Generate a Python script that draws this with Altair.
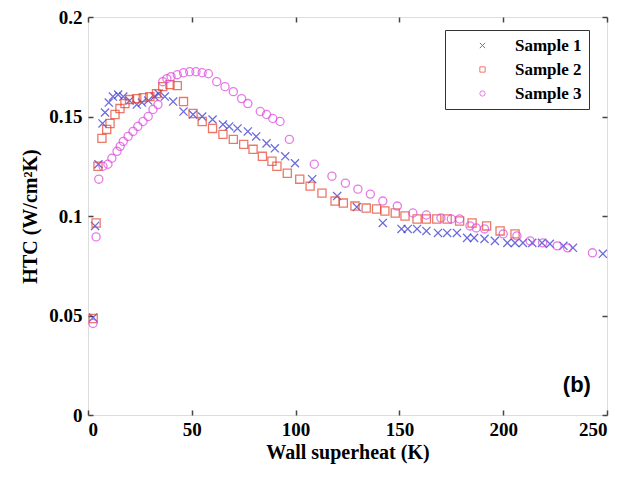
import altair as alt
import pandas as pd

names = ["Sample 1", "Sample 2", "Sample 3"]
colors = ["#2f2fd0", "#e5402a", "#dd44dd"]
shapes = ["M-1,-1L1,1M-1,1L1,-1", "square", "circle"]

s1_x = [2.5, 3.4, 5, 7, 8.2, 10, 12, 14.5, 17, 20, 23.5, 26, 29, 32, 34, 37, 41, 46, 50.6, 55,
        60, 65, 68, 72, 77, 81, 86, 90, 95, 99.7, 108, 120, 129.5, 142, 151, 154, 158.5, 163,
        168.6, 173, 177.7, 182.6, 186, 191, 196, 202, 205.7, 209.5, 214, 218.7, 222.5, 229, 233.6, 248]
s1_y = [0.049, 0.095, 0.126, 0.1465, 0.152, 0.157, 0.160, 0.161, 0.160, 0.158, 0.156, 0.157, 0.158,
        0.160, 0.1615, 0.160, 0.1575, 0.1525, 0.151, 0.150, 0.1485, 0.146, 0.145, 0.144, 0.1425,
        0.140, 0.1365, 0.134, 0.130, 0.1265, 0.1185, 0.110, 0.1045, 0.0965, 0.0935, 0.0935, 0.0935,
        0.0925, 0.0915, 0.0915, 0.0915, 0.089, 0.089, 0.0885, 0.0875, 0.0865, 0.0865, 0.0865, 0.0865,
        0.0865, 0.086, 0.085, 0.084, 0.081]

s2_x = [2.5, 3.9, 4.8, 6.7, 9, 10.6, 13, 15.4, 17.8, 20, 23.5, 26.6, 29.8, 33, 36, 39.5, 43, 46,
        50.6, 55, 60, 65, 70, 75, 79.5, 84, 88.6, 91, 96, 102, 107, 112.7, 119, 123, 128.6, 134,
        139, 143, 148, 152.7, 158.5, 163, 168, 173, 179, 185, 192, 198.5, 205.7]
s2_y = [0.0485, 0.0965, 0.125, 0.139, 0.1435, 0.1465, 0.151, 0.154, 0.1565, 0.1585, 0.159, 0.1595,
        0.160, 0.1615, 0.165, 0.166, 0.1655, 0.1575, 0.1515, 0.1475, 0.144, 0.141, 0.1385, 0.136,
        0.1335, 0.130, 0.1275, 0.125, 0.1215, 0.1185, 0.115, 0.1115, 0.1075, 0.1065, 0.105, 0.104,
        0.1035, 0.1025, 0.1015, 0.100, 0.0985, 0.0985, 0.0985, 0.0985, 0.0975, 0.0965, 0.095,
        0.0925, 0.091]

s3_x = [2.4, 3.9, 5.2, 7.2, 9.6, 11.5, 14, 15.5, 17, 19.3, 21.7, 24, 26.5, 29, 31.3, 33.7, 36, 38,
        40, 43, 46, 49, 52, 55, 58, 62, 66, 70, 74, 77, 83, 86, 89, 92.5, 97, 109, 117.5, 124, 130,
        136, 142, 149, 156.5, 163, 170, 175, 179, 184, 187, 191, 200, 206.6, 213, 219, 226, 231, 243]
s3_y = [0.046, 0.0895, 0.1185, 0.125, 0.126, 0.129, 0.1325, 0.135, 0.1375, 0.140, 0.1425, 0.145,
        0.1475, 0.150, 0.1535, 0.156, 0.1675, 0.169, 0.170, 0.171, 0.172, 0.1725, 0.1725, 0.172,
        0.1715, 0.1675, 0.165, 0.1625, 0.159, 0.1565, 0.1525, 0.151, 0.149, 0.1475, 0.1385, 0.126,
        0.120, 0.1165, 0.1135, 0.111, 0.1075, 0.105, 0.1015, 0.1005, 0.099, 0.0985, 0.0985, 0.095,
        0.094, 0.0935, 0.091, 0.090, 0.0875, 0.0865, 0.085, 0.084, 0.0815]

x_ticks = [0, 50, 100, 150, 200, 250]
y_ticks = [0, 0.05, 0.1, 0.15, 0.2]

label_text = ["(b)"]
label_x = [235.5]
label_y = [0.015]

rows = []
for nm, xs, ys in zip(names, [s1_x, s2_x, s3_x], [s1_y, s2_y, s3_y]):
    for a, b in zip(xs, ys):
        rows.append({"K": a, "HTC": b, "series": nm})
df = pd.DataFrame(rows)
lab_df = pd.DataFrame({"K": label_x, "HTC": label_y, "t": label_text})

W, H = 519, 398
xs_ = alt.Scale(domain=[0, 250], nice=False)
ys_ = alt.Scale(domain=[0, 0.2], nice=False)
serif = "Liberation Serif"

leg = alt.Legend(title=None, orient="none", legendX=357, legendY=13,
                 strokeColor="#333", fillColor="white", padding=7,
                 labelFont=serif, labelFontWeight="bold", labelFontSize=17,
                 labelColor="black", symbolSize=28, symbolStrokeWidth=1,
                 symbolOffset=22, labelOffset=24, rowPadding=6)

points = alt.Chart(df).mark_point(filled=False, strokeWidth=1.3, size=66).encode(
    x=alt.X("K:Q", scale=xs_, axis=alt.Axis(
        orient="bottom", values=x_ticks, format="d", ticks=False, domain=False, grid=False,
        labelFont=serif, labelFontWeight="bold", labelFontSize=19, labelColor="black",
        labelPadding=5, title="Wall superheat (K)", titleFont=serif, titleFontWeight="bold",
        titleFontSize=20, titleColor="black", titlePadding=3)),
    y=alt.Y("HTC:Q", scale=ys_, axis=alt.Axis(
        orient="left", values=y_ticks, format="~g", ticks=False, domain=False, grid=False,
        labelFont=serif, labelFontWeight="bold", labelFontSize=19, labelColor="black",
        labelPadding=6, title="HTC (W/cm²K)", titleFont=serif, titleFontWeight="bold",
        titleFontSize=20, titleColor="black", titlePadding=8)),
    color=alt.Color("series:N", scale=alt.Scale(domain=names, range=colors), legend=leg),
    shape=alt.Shape("series:N", scale=alt.Scale(domain=names, range=shapes), legend=leg),
)

tick_kw = dict(labels=False, domain=False, grid=False, ticks=True, tickSize=5,
               tickColor="#444", tickWidth=1.5, title=None)

label = alt.Chart(lab_df).mark_text(font="Liberation Sans", fontWeight="bold",
                                    fontSize=22, color="black").encode(
    x=alt.X("K:Q", scale=xs_, axis=alt.Axis(orient="top", offset=-H, values=x_ticks, **tick_kw)),
    y=alt.Y("HTC:Q", scale=ys_, axis=alt.Axis(orient="right", offset=-W, values=y_ticks, **tick_kw)),
    text="t:N",
)

ghost = alt.Chart(lab_df).mark_point(opacity=0).encode(
    x=alt.X("K:Q", scale=xs_, axis=alt.Axis(orient="bottom", offset=-H, values=x_ticks, **tick_kw)),
    y=alt.Y("HTC:Q", scale=ys_, axis=alt.Axis(orient="left", offset=-W, values=y_ticks, **tick_kw)),
)

chart = alt.layer(points, label, ghost).resolve_axis(
    x="independent", y="independent"
).properties(
    width=W, height=H,
    autosize=alt.AutoSizeParams(type="none"),
    padding={"left": 80, "top": 9, "right": 10, "bottom": 54},
).configure_view(stroke="#444", strokeWidth=2).configure(background="white")

chart.save("out.html", embed_options={"renderer": "svg", "actions": False})
